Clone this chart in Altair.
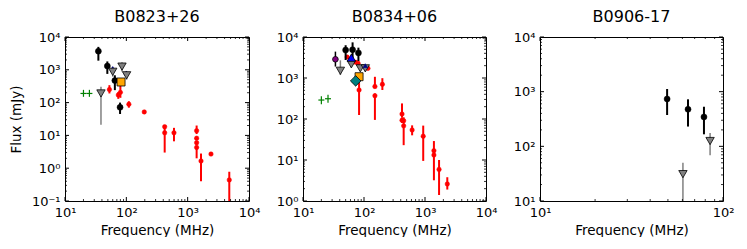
import altair as alt
import pandas as pd

# ---------------- values ----------------
# B0823+26
b0823_black_freq = [35, 49, 65, 79]
b0823_black_flux = [3700, 1300, 470, 72]
b0823_black_lo = [1900, 750, 240, 45]
b0823_black_hi = [5000, 1800, 680, 100]

b0823_red_freq = [53, 74, 80, 110, 196, 422, 422, 598, 1400, 1400, 1400, 1400, 1650, 2400, 4770]
b0823_red_flux = [250, 170, 205, 89, 52, 18.4, 12, 12, 13.9, 8.2, 6.0, 4.3, 1.66, 2.7, 0.44]
b0823_red_lo = [190, 130, 140, 70, 47, 16, 3.0, 6.6, 11, 7.2, 5.2, 2.0, 0.4, 2.5, 0.05]
b0823_red_hi = [340, 210, 420, 110, 57, 20, 17, 17, 20, 9.2, 6.8, 5.0, 2.8, 2.9, 0.78]

b0823_gray_freq = [38.6, 60, 85, 101]
b0823_gray_flux = [190, 870, 1250, 680]
b0823_gray_lo = [21, 620, 880, 500]
b0823_gray_hi = [305, 1100, 1700, 850]

b0823_navy_freq = [60, 100]
b0823_navy_flux = [1100, 800]
b0823_navy_lo = [1000, 720]
b0823_navy_hi = [1200, 880]

b0823_orange_freq = [82]
b0823_orange_flux = [425]

b0823_green_freq = [20, 25]
b0823_green_flux = [190, 190]
b0823_green_lo = [150, 150]
b0823_green_hi = [245, 245]

# B0834+06
b0834_black_freq = [50, 65, 81]
b0834_black_flux = [4800, 4900, 4100]
b0834_black_lo = [2750, 3000, 2600]
b0834_black_hi = [6300, 7400, 5500]

b0834_red_freq = [53, 73, 80, 116, 83, 151, 151, 200, 420, 420, 447, 447, 615, 935, 1400, 1400, 1700, 2320]
b0834_red_flux = [3240, 2420, 2290, 1720, 510, 620, 370, 700, 132, 93, 91, 68, 54, 38, 16.9, 13.2, 5.9, 2.6]
b0834_red_lo = [2900, 2200, 2100, 1550, 125, 560, 95, 510, 110, 80, 80, 23, 40, 9.5, 14, 3.2, 1.4, 1.9]
b0834_red_hi = [3600, 2700, 2500, 1900, 890, 1070, 420, 990, 240, 110, 110, 80, 70, 69, 29, 15, 10, 3.8]

b0834_gray_freq = [41, 62, 87, 105]
b0834_gray_flux = [1500, 2160, 1720, 1720]
b0834_gray_lo = [1180, 1800, 1500, 1500]
b0834_gray_hi = [2700, 2600, 2000, 2000]

b0834_navy_freq = [105]
b0834_navy_flux = [2000]

b0834_blue_freq = [62]
b0834_blue_flux = [3130]

b0834_orange_freq = [83]
b0834_orange_flux = [1075]

b0834_teal_freq = [73]
b0834_teal_flux = [850]

b0834_purple_freq = [34]
b0834_purple_flux = [2860]
b0834_purple_lo = [1900]
b0834_purple_hi = [4400]

b0834_green_freq = [20, 25.7]
b0834_green_flux = [290, 312]
b0834_green_lo = [230, 250]
b0834_green_hi = [360, 390]

# B0906-17
b0906_black_freq = [49.5, 64.4, 78.7]
b0906_black_flux = [735, 476, 345]
b0906_black_lo = [374, 230, 166]
b0906_black_hi = [1120, 725, 530]

b0906_gray_freq = [60.4, 85]
b0906_gray_flux = [31, 125]
b0906_gray_lo = [5, 69]
b0906_gray_hi = [50, 175]

# ---------------- styles ----------------
PLUS = "M-1,0L1,0"
STYLE = {
    "red": dict(shape="circle", fill="#ff0000", stroke="#ff0000", size=20, sw=0.5, err="#ff0000", ew=2),
    "black": dict(shape="circle", fill="#000000", stroke="#000000", size=36, sw=0.5, err="#000000", ew=2),
    "gray": dict(shape="triangle-down", fill="#808080", stroke="#000000", size=70, sw=0.8, err="#808080", ew=1.5),
    "navy": dict(shape="triangle-up", fill="#000080", stroke="#000080", size=22, sw=0.5, err="#000080", ew=1),
    "blue": dict(shape="triangle-up", fill="#0000ff", stroke="#000000", size=70, sw=0.8, err="#0000ff", ew=1),
    "orange": dict(shape="square", fill="#ffa500", stroke="#000000", size=64, sw=0.8, err="#ffa500", ew=1),
    "teal": dict(shape="diamond", fill="#008080", stroke="#000000", size=110, sw=0.8, err="#008080", ew=1),
    "purple": dict(shape="circle", fill="#800080", stroke="#000000", size=32, sw=0.8, err="#000000", ew=1.5),
    "green": dict(shape=PLUS, fill="transparent", stroke="#008000", size=36, sw=1.2, err="#008000", ew=1.2),
}

SUP = ("'10' + (datum.value < 0.5 ? '⁻¹' : datum.value < 5 ? '⁰' : datum.value < 50 ? '¹' : "
       "datum.value < 500 ? '²' : datum.value < 5000 ? '³' : '⁴')")

FONT = "DejaVu Sans"


def series(name, f, s, lo=None, hi=None):
    return (name, f, s, lo if lo is not None else s, hi if hi is not None else s)


def decades(lo_exp, hi_exp):
    major = [10.0 ** e for e in range(lo_exp, hi_exp + 1)]
    minor = [k * 10.0 ** e for e in range(lo_exp, hi_exp) for k in range(2, 10)]
    return major, minor


def panel(title, ser, xexp, yexp, ytitle, W, H):
    xmaj, xmin = decades(*xexp)
    ymaj, ymin = decades(*yexp)
    xs = alt.Scale(type="log", domain=[xmaj[0], xmaj[-1]])
    ys = alt.Scale(type="log", domain=[ymaj[0], ymaj[-1]])
    xaxis = alt.Axis(values=xmaj, labelExpr=SUP, title="Frequency (MHz)", labelFlush=False,
                     labelPadding=5, titlePadding=4, ticks=False, domain=False, grid=False)
    yaxis = alt.Axis(values=ymaj, labelExpr=SUP, title=ytitle, labelPadding=5, titlePadding=8,
                     ticks=False, domain=False, grid=False)

    def X(field):
        return alt.X(field, type="quantitative", scale=xs, axis=xaxis)

    def Y(field):
        return alt.Y(field, type="quantitative", scale=ys, axis=yaxis)

    layers = []
    for name, f, s, lo, hi in ser:
        st = STYLE[name]
        df = pd.DataFrame({"freq": f, "flux": s, "lo": lo, "hi": hi})
        base = alt.Chart(df)
        layers.append(base.mark_rule(color=st["err"], strokeWidth=st["ew"], clip=True).encode(
            x=X("freq"), y=Y("lo"), y2=alt.Y2("hi")))
        layers.append(base.mark_point(shape=st["shape"], fill=st["fill"], stroke=st["stroke"],
                                      size=st["size"], strokeWidth=st["sw"], opacity=1,
                                      filled=False, clip=True).encode(x=X("freq"), y=Y("flux")))

    # inward ticks on all four sides
    for vals, ln, w in ((xmaj, 4, 1.0), (xmin, 2, 0.8)):
        c = alt.Chart(pd.DataFrame({"v": vals}))
        layers.append(c.mark_rule(color="black", strokeWidth=w).encode(
            x=X("v"), y=alt.value(H), y2=alt.value(H - ln)))
        layers.append(c.mark_rule(color="black", strokeWidth=w).encode(
            x=X("v"), y=alt.value(0), y2=alt.value(ln)))
    for vals, ln, w in ((ymaj, 4, 1.0), (ymin, 2, 0.8)):
        c = alt.Chart(pd.DataFrame({"v": vals}))
        layers.append(c.mark_rule(color="black", strokeWidth=w).encode(
            y=Y("v"), x=alt.value(0), x2=alt.value(ln)))
        layers.append(c.mark_rule(color="black", strokeWidth=w).encode(
            y=Y("v"), x=alt.value(W), x2=alt.value(W - ln)))

    return alt.layer(*layers).properties(
        width=W, height=H,
        title=alt.Title(title, fontSize=16, font=FONT, fontWeight="normal", color="black", offset=6),
    )


p1 = panel("B0823+26", [
    series("red", b0823_red_freq, b0823_red_flux, b0823_red_lo, b0823_red_hi),
    series("black", b0823_black_freq, b0823_black_flux, b0823_black_lo, b0823_black_hi),
    series("navy", b0823_navy_freq, b0823_navy_flux, b0823_navy_lo, b0823_navy_hi),
    series("gray", b0823_gray_freq, b0823_gray_flux, b0823_gray_lo, b0823_gray_hi),
    series("orange", b0823_orange_freq, b0823_orange_flux),
    series("green", b0823_green_freq, b0823_green_flux, b0823_green_lo, b0823_green_hi),
], (1, 4), (-1, 4), "Flux (mJy)", 184, 164)

p2 = panel("B0834+06", [
    series("red", b0834_red_freq, b0834_red_flux, b0834_red_lo, b0834_red_hi),
    series("black", b0834_black_freq, b0834_black_flux, b0834_black_lo, b0834_black_hi),
    series("gray", b0834_gray_freq, b0834_gray_flux, b0834_gray_lo, b0834_gray_hi),
    series("navy", b0834_navy_freq, b0834_navy_flux),
    series("blue", b0834_blue_freq, b0834_blue_flux),
    series("orange", b0834_orange_freq, b0834_orange_flux),
    series("teal", b0834_teal_freq, b0834_teal_flux),
    series("purple", b0834_purple_freq, b0834_purple_flux, b0834_purple_lo, b0834_purple_hi),
    series("green", b0834_green_freq, b0834_green_flux, b0834_green_lo, b0834_green_hi),
], (1, 4), (0, 4), None, 183, 164)

p3 = panel("B0906-17", [
    series("black", b0906_black_freq, b0906_black_flux, b0906_black_lo, b0906_black_hi),
    series("gray", b0906_gray_freq, b0906_gray_flux, b0906_gray_lo, b0906_gray_hi),
], (1, 2), (1, 4), None, 183, 164)

chart = alt.hconcat(p1, p2, p3, spacing=54, bounds="flush",
                    padding={"left": 0, "top": 0, "right": 0, "bottom": 0}).configure_view(
    stroke="black", strokeWidth=1
).configure_axis(
    labelFont=FONT, labelFontSize=13, labelColor="black",
    titleFont=FONT, titleFontSize=13.5, titleFontWeight="normal", titleColor="black",
)

chart.save("out.html", embed_options={"renderer": "svg", "actions": False})
